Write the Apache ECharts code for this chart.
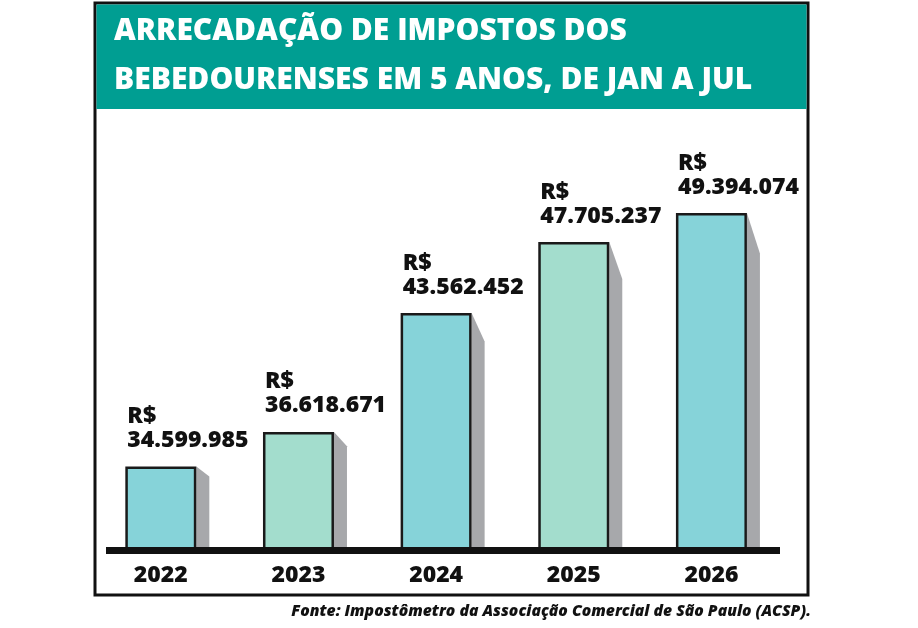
<!DOCTYPE html>
<html>
<head>
<meta charset="utf-8">
<script src="https://cdn.jsdelivr.net/npm/echarts@6/dist/echarts.min.js"></script>
<style>
html, body { margin: 0; padding: 0; background: #fff; }
#chart { width: 918px; height: 628px; }
</style>
</head>
<body>
<div id="chart"></div>
<script>
// dados
var years = ['2022', '2023', '2024', '2025', '2026'];
var values = [34599985, 36618671, 43562452, 47705237, 49394074];
var titleLines = ['ARRECADAÇÃO DE IMPOSTOS DOS', 'BEBEDOURENSES EM 5 ANOS, DE JAN A JUL'];
var sourceText = 'Fonte: Impostômetro da Associação Comercial de São Paulo (ACSP).';

// estilo
var palette = ['#86d3d9', '#a3ddcd'];
var yMin = 29700000, yMax = 55000000;
var font = 'Open Sans';

function fmt(v) {
    return String(v).replace(/\B(?=(\d{3})+(?!\d))/g, '.');
}

var chart = echarts.init(document.getElementById('chart'));

var option = {
    backgroundColor: '#fff',
    animation: false,
    title: {
        text: titleLines.join('\n'),
        left: 114,
        top: 7,
        padding: 0,
        z: 10,
        textStyle: {
            color: '#fff',
            fontSize: 30,
            fontWeight: 800,
            fontFamily: font,
            lineHeight: 49
        }
    },
    grid: { left: 92, right: 137.75, top: 117, bottom: 77.5 },
    xAxis: {
        type: 'category',
        data: years,
        axisLine: { show: false },
        axisTick: { show: false },
        axisLabel: {
            color: '#111',
            fontSize: 23,
            fontWeight: 800,
            fontFamily: font,
            margin: 13
        }
    },
    yAxis: {
        type: 'value',
        min: yMin,
        max: yMax,
        show: false
    },
    graphic: [
        // moldura
        {
            type: 'rect', z: 0,
            shape: { x: 95, y: 3, width: 713, height: 592 },
            style: { fill: '#fff', stroke: '#111', lineWidth: 3 }
        },
        // faixa do titulo
        {
            type: 'rect', z: 1,
            shape: { x: 96.5, y: 4.5, width: 710, height: 104.5 },
            style: { fill: '#009e92' }
        },
        // linha de base
        {
            type: 'rect', z: 100,
            shape: { x: 106, y: 547, width: 674, height: 7 },
            style: { fill: '#111' }
        },
        {
            type: 'text', z: 10,
            x: 811, y: 612,
            style: {
                text: sourceText,
                align: 'right',
                verticalAlign: 'middle',
                fill: '#111',
                font: 'italic 800 15.7px "Open Sans"'
            }
        }
    ],
    series: [
        {
            // sombra cinza
            type: 'custom',
            z: 1,
            data: values.map(function (v, i) { return [i, v]; }),
            encode: { x: 0, y: 1 },
            renderItem: function (params, api) {
                var top = api.coord([api.value(0), api.value(1)]);
                var bot = api.coord([api.value(0), yMin]);
                var x0 = top[0] + 35.5, w = 13;
                var drop = (bot[1] - top[1]) * 0.12;
                return {
                    type: 'polygon',
                    shape: {
                        points: [[x0, top[1]], [x0 + w, top[1] + drop], [x0 + w, bot[1]], [x0, bot[1]]]
                    },
                    style: { fill: '#a7a8ab' }
                };
            }
        },
        {
            type: 'bar',
            z: 2,
            barWidth: 71,
            data: values.map(function (v, i) {
                return { value: v, itemStyle: { color: palette[i % 2] } };
            }),
            itemStyle: { borderColor: '#1a1a1a', borderWidth: 2.5 },
            label: {
                show: true,
                position: [2, -14],
                align: 'left',
                verticalAlign: 'bottom',
                color: '#111',
                fontSize: 23,
                fontWeight: 800,
                fontFamily: font,
                lineHeight: 24,
                formatter: function (p) { return 'R$\n' + fmt(p.value); }
            }
        }
    ]
};

chart.setOption(option);
</script>
</body>
</html>
